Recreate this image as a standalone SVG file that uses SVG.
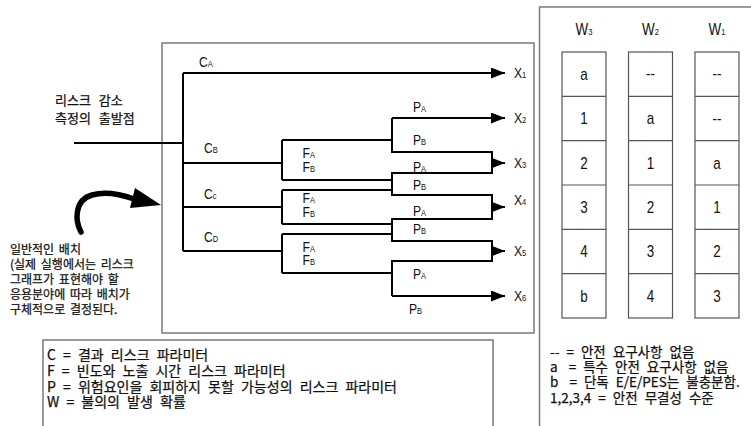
<svg xmlns="http://www.w3.org/2000/svg" width="751" height="426" viewBox="0 0 751 426">
  <style>
    .frame { fill: none; stroke: #7a7a7a; stroke-width: 1.5; }
    .cell { fill: #fff; stroke: #555; stroke-width: 1.2; }
    .wire { fill: none; stroke: #000; stroke-width: 2; }
    .lbl { font-family: "Liberation Sans", Arial, sans-serif; font-size: 14.5px; fill: #111;
           transform-box: fill-box; transform-origin: 0 0; transform: scaleX(0.84); }
    .s { font-size: 9px; }
    .ct { font-family: "Liberation Sans", Arial, sans-serif; font-size: 16px; fill: #111; text-anchor: middle;
          transform-box: fill-box; transform-origin: center; transform: scaleX(0.84); }
    .ko { font-family: "Noto Sans CJK KR", "Liberation Sans", sans-serif; fill: #111; stroke: #111; stroke-width: 0.25; }
    .ko14 { font-size: 14px; word-spacing: 4px; }
    .ko13 { font-size: 13.5px; word-spacing: 4px; }
    .ko12 { font-size: 13px; word-spacing: 5px; }
    .ko11 { font-size: 12px; word-spacing: 2px; }
  </style>
  <defs>
    <marker id="arrow" markerUnits="userSpaceOnUse" markerWidth="14" markerHeight="11" refX="14" refY="5.5" orient="auto">
      <path d="M0,0 L14,5.5 L0,11 Z" fill="#000"/>
    </marker>
  </defs>

  <!-- panel frames -->
  <g id="frames">
    <rect class="frame" x="162" y="43" width="372" height="290"/>
    <path class="frame" d="M751,7 H539.5 V426"/>
    <path class="frame" d="M43,426 V340 H493 V426"/>
  </g>

  <!-- risk graph branches -->
  <g id="connectors">
    <path class="wire" d="M74,143 H183"/>
    <path class="wire" d="M183,73 V251"/>
    <path class="wire" d="M183,73 H505" marker-end="url(#arrow)"/>
    <path class="wire" d="M183,163 H282 M282,140 V180 M282,140 H392 M282,180 H392"/>
    <path class="wire" d="M183,207 H282 M282,190 V224 M282,190 H392 M282,224 H392"/>
    <path class="wire" d="M183,251 H282 M282,234 V273 M282,234 H392 M282,273 H392"/>
    <path class="wire" d="M392,118 V152 H492 V173 H392 V195 H492 V219 H392 V241 H492 V261 H392 V296"/>
    <path class="wire" d="M392,118 H505" marker-end="url(#arrow)"/>
    <path class="wire" d="M492,163 H505" marker-end="url(#arrow)"/>
    <path class="wire" d="M492,207 H505" marker-end="url(#arrow)"/>
    <path class="wire" d="M492,251 H505" marker-end="url(#arrow)"/>
    <path class="wire" d="M392,296 H505" marker-end="url(#arrow)"/>
    <!-- placement hint arrow -->
    <path d="M81,232 C75,221 74,200 92,195 C106,191 120,194 134,199" fill="none" stroke="#000" stroke-width="5.5" stroke-linecap="round"/>
    <path d="M161,205 L135,188 L130,208 Z" fill="#000"/>
  </g>

  <!-- branch labels -->
  <g id="labels">
    <text class="lbl" x="199" y="67">C<tspan class="s">A</tspan></text>
    <text class="lbl" x="204" y="153">C<tspan class="s">B</tspan></text>
    <text class="lbl" x="204" y="199">C<tspan class="s">c</tspan></text>
    <text class="lbl" x="204" y="242">C<tspan class="s">D</tspan></text>
    <text class="lbl" x="302.5" y="158">F<tspan class="s">A</tspan></text>
    <text class="lbl" x="302.5" y="172">F<tspan class="s">B</tspan></text>
    <text class="lbl" x="302.5" y="203">F<tspan class="s">A</tspan></text>
    <text class="lbl" x="302.5" y="217">F<tspan class="s">B</tspan></text>
    <text class="lbl" x="302.5" y="252">F<tspan class="s">A</tspan></text>
    <text class="lbl" x="302.5" y="265">F<tspan class="s">B</tspan></text>
    <text class="lbl" x="413" y="112">P<tspan class="s">A</tspan></text>
    <text class="lbl" x="413" y="145">P<tspan class="s">B</tspan></text>
    <text class="lbl" x="413" y="172">P<tspan class="s">A</tspan></text>
    <text class="lbl" x="413" y="190">P<tspan class="s">B</tspan></text>
    <text class="lbl" x="413" y="216">P<tspan class="s">A</tspan></text>
    <text class="lbl" x="413" y="234">P<tspan class="s">B</tspan></text>
    <text class="lbl" x="413" y="279">P<tspan class="s">A</tspan></text>
    <text class="lbl" x="409" y="314">P<tspan class="s">B</tspan></text>
  </g>

  <!-- outcomes -->
  <g id="outcomes">
    <text class="lbl" x="514" y="78">X<tspan class="s">1</tspan></text>
    <text class="lbl" x="514" y="123">X<tspan class="s">2</tspan></text>
    <text class="lbl" x="514" y="168">X<tspan class="s">3</tspan></text>
    <text class="lbl" x="514" y="205">X<tspan class="s">4</tspan></text>
    <text class="lbl" x="514" y="256">X<tspan class="s">5</tspan></text>
    <text class="lbl" x="514" y="301">X<tspan class="s">6</tspan></text>
  </g>

  <!-- side notes -->
  <g id="start-note">
    <text class="ko ko12" x="55" y="105">리스크 감소</text>
    <text class="ko ko12" x="55" y="123">측정의 출발점</text>
  </g>
  <g id="placement-note">
    <text class="ko ko11" x="10" y="254">일반적인 배치</text>
    <text class="ko ko11" x="10" y="269">(실제 실행에서는 리스크</text>
    <text class="ko ko11" x="10" y="284">그래프가 표현해야 할</text>
    <text class="ko ko11" x="10" y="299">응용분야에 따라 배치가</text>
    <text class="ko ko11" x="10" y="314">구체적으로 결정된다.</text>
  </g>

  <!-- W3 / W2 / W1 columns -->
  <g id="table-w3">
    <text class="ct" x="584" y="35">W<tspan class="s">3</tspan></text>
    <rect class="cell" x="562" y="52" width="44" height="266"/>
    <path class="cell" d="M562,96.3 H606 M562,140.7 H606 M562,185 H606 M562,229.3 H606 M562,273.7 H606"/>
    <text class="ct" x="584" y="80">a</text>
    <text class="ct" x="584" y="124">1</text>
    <text class="ct" x="584" y="169">2</text>
    <text class="ct" x="584" y="213">3</text>
    <text class="ct" x="584" y="257">4</text>
    <text class="ct" x="584" y="302">b</text>
  </g>
  <g id="table-w2">
    <text class="ct" x="650.5" y="35">W<tspan class="s">2</tspan></text>
    <rect class="cell" x="628.5" y="52" width="44" height="266"/>
    <path class="cell" d="M628.5,96.3 H672.5 M628.5,140.7 H672.5 M628.5,185 H672.5 M628.5,229.3 H672.5 M628.5,273.7 H672.5"/>
    <text class="ct" x="650.5" y="79">--</text>
    <text class="ct" x="650.5" y="124">a</text>
    <text class="ct" x="650.5" y="169">1</text>
    <text class="ct" x="650.5" y="213">2</text>
    <text class="ct" x="650.5" y="257">3</text>
    <text class="ct" x="650.5" y="302">4</text>
  </g>
  <g id="table-w1">
    <text class="ct" x="717" y="35">W<tspan class="s">1</tspan></text>
    <rect class="cell" x="695" y="52" width="44" height="266"/>
    <path class="cell" d="M695,96.3 H739 M695,140.7 H739 M695,185 H739 M695,229.3 H739 M695,273.7 H739"/>
    <text class="ct" x="717" y="79">--</text>
    <text class="ct" x="717" y="124">--</text>
    <text class="ct" x="717" y="169">a</text>
    <text class="ct" x="717" y="213">1</text>
    <text class="ct" x="717" y="257">2</text>
    <text class="ct" x="717" y="302">3</text>
  </g>

  <!-- legends -->
  <g id="legend-table">
    <text class="ko ko13" x="550" y="357">-- = 안전 요구사항 없음</text>
    <text class="ko ko13" x="550" y="372">a <tspan dx="4">= 특수 안전 요구사항 없음</tspan></text>
    <text class="ko ko13" x="550" y="387">b <tspan dx="4">= 단독 E/E/PES는 불충분함.</tspan></text>
    <text class="ko ko13" x="550" y="403">1,2,3,4 = 안전 무결성 수준</text>
  </g>
  <g id="legend-params">
    <text class="ko ko14" x="47" y="360">C = 결과 리스크 파라미터</text>
    <text class="ko ko14" x="47" y="376">F = 빈도와 노출 시간 리스크 파라미터</text>
    <text class="ko ko14" x="47" y="392">P = 위험요인을 회피하지 못할 가능성의 리스크 파라미터</text>
    <text class="ko ko14" x="47" y="407">W = 불의의 발생 확률</text>
  </g>
</svg>
